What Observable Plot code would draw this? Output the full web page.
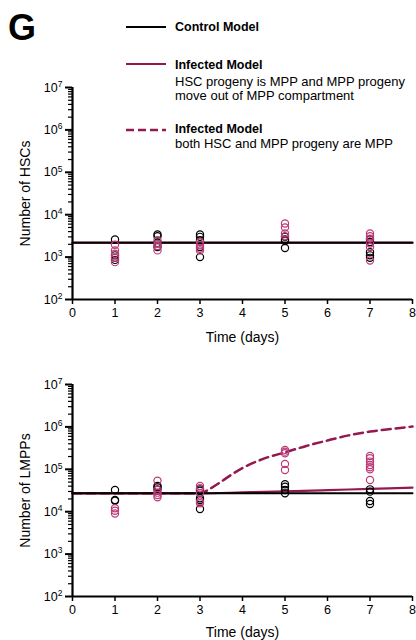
<!DOCTYPE html>
<html><head><meta charset="utf-8">
<script src="https://cdn.jsdelivr.net/npm/d3@7"></script>
<script src="https://cdn.jsdelivr.net/npm/@observablehq/plot@0.6"></script>
<style>
body{margin:0;width:416px;height:640px;position:relative;font-family:"Liberation Sans",Arial,sans-serif;background:#fff;overflow:hidden;color:#000}
#G{position:absolute;left:8px;top:10px;font-size:36px;font-weight:bold;line-height:1}
.leg{position:absolute;font-size:13px;white-space:nowrap}
.leg b{font-size:12.5px}
.lline{position:absolute;left:126px;overflow:visible}
.chart{position:absolute;left:0}
.chart svg{overflow:visible}
</style></head><body>
<div id="G">G</div>
<svg class="lline" style="top:20px" width="40" height="14"><line x1="0" x2="40" y1="7" y2="7" stroke="#000" stroke-width="2"/></svg>
<svg class="lline" style="top:57px" width="40" height="14"><line x1="0" x2="40" y1="7" y2="7" stroke="#93194f" stroke-width="2"/></svg>
<svg class="lline" style="top:123px" width="40" height="14"><line x1="0" x2="40" y1="7" y2="7" stroke="#93194f" stroke-width="2.5" stroke-dasharray="8,4"/></svg>
<div class="leg" style="left:175px;top:19px"><b>Control Model</b></div>
<div class="leg" style="left:175px;top:57px"><b>Infected Model</b></div>
<div class="leg" style="left:175px;top:75px;line-height:14px">HSC progeny is MPP and MPP progeny<br>move out of MPP compartment</div>
<div class="leg" style="left:175px;top:121px"><b>Infected Model</b></div>
<div class="leg" style="left:175px;top:136px">both HSC and MPP progeny are MPP</div>
<div id="c1" class="chart" style="top:77px"></div>
<div id="c2" class="chart" style="top:374px"></div>
<script>
// ---- axis ticks ----
const xTicks = [0,1,2,3,4,5,6,7,8];
const yTicks = [1e2,1e3,1e4,1e5,1e6,1e7];
const yTickLabels = ["2","3","4","5","6","7"];

// ---- HSC panel data ----
const hscCtrlDay = [1,1,1,1, 2,2,2,2, 3,3,3,3,3, 5,5,5,5, 7,7,7,7,7];
const hscCtrlVal = [2600,1100,960,860, 3400,3100,2150,1730, 3400,3000,2490,1730,1000, 3000,2600,2400,1640, 2600,2275,1310,1100,960];
const hscInfDay = [1,1,1,1,1, 2,2,2,2, 3,3,3,3, 5,5,5,5, 7,7,7,7,7,7];
const hscInfVal = [1960,1440,1200,960,760, 2490,2080,1830,1440, 2275,1900,1580,1440, 6200,5000,3600,3100, 3600,3100,2730,2080,1730,830];
const hscModelDay = [0,8];
const hscCtrlModel = [2220,2220];
const hscInfModel = [2220,2220];

// ---- LMPP panel data ----
const lmppCtrlDay = [1,1,1, 2,2,2, 3,3,3,3,3, 5,5,5,5, 7,7,7,7];
const lmppCtrlVal = [32500,18900,18200, 40500,37600,33700, 33700,31300,20700,18900,11600, 44300,39000,32500,27100, 33700,29700,17900,15200];
const lmppInfDay = [1,1,1, 2,2,2,2,2, 3,3,3,3,3, 5,5,5,5,5, 7,7,7,7,7,7,7];
const lmppInfVal = [12000,10500,9100, 54000,32500,28100,24700,21800, 40500,35600,27100,17300,15800, 287000,261000,239000,134000,96000, 206000,182000,152000,126000,112000,100000,56000];
const lmppCtrlModelDay = [0,8];
const lmppCtrlModel = [27100,27100];
const lmppInfSolidDay = [0,3,4,5,6,7,8];
const lmppInfSolid = [27100,27100,28500,30200,32300,34500,36900];
const lmppInfDashDay = [0,3,3.25,3.5,3.75,4,4.5,5,5.5,6,6.5,7,7.5,8];
const lmppInfDash = [27100,27100,35500,51300,75900,107000,178000,251000,355000,479000,631000,776000,891000,1020000];

const BLACK = "#000", LINE_PINK = "#93194f", PT_PINK = "#bd3a78";
const zip = (xs, ys) => xs.map((x, i) => ({x, y: ys[i]}));

const minorTicks = [];
for (let e = 2; e < 7; e++) for (let m = 2; m <= 9; m++) minorTicks.push(m * 10 ** e);

function panel({height, marginBottom, xLabelOffset, ylabel, lines, ctrlPts, infPts}) {
  const svg = Plot.plot({
    width: 416, height,
    marginLeft: 72, marginRight: 4, marginTop: 10, marginBottom,
    style: {fontFamily: '"Liberation Sans", Arial, sans-serif', fontSize: "12px", overflow: "visible"},
    x: {domain: [0, 8]},
    y: {type: "log", domain: [1e2, 1e7]},
    marks: [
      Plot.axisX({ticks: xTicks, tickSize: 5, tickPadding: 4, strokeWidth: 1.5, fontSize: 12.5,
        tickFormat: d => String(d),
        label: "Time (days)", labelAnchor: "center", labelArrow: "none", labelOffset: xLabelOffset}),
      Plot.axisY({ticks: minorTicks, tickSize: 4, strokeWidth: 1.2, tickFormat: () => "", label: null}),
      Plot.axisY({ticks: yTicks, tickSize: 7, strokeWidth: 2, tickPadding: 3, fontSize: 12.5,
        tickFormat: d => "10^" + yTickLabels[yTicks.indexOf(d)], label: null}),
      Plot.axisY({ticks: [], label: ylabel, labelAnchor: "center", labelArrow: "none", labelOffset: 52, fontSize: 14}),
      ...lines,
      Plot.dot(ctrlPts, {x: "x", y: "y", r: 3.6, stroke: BLACK, strokeWidth: 1.2, fill: "none"}),
      Plot.dot(infPts, {x: "x", y: "y", r: 3.6, stroke: PT_PINK, strokeWidth: 1.2, fill: "none"}),
      Plot.ruleX([0], {strokeWidth: 2.2}),
      Plot.ruleY([1e2], {strokeWidth: 2.2})
    ]
  });
  svg.querySelectorAll('g[aria-label="y-axis tick label"] text').forEach(t => {
    const s = t.textContent;
    if (!s.includes("^")) return;
    const [base, exp] = s.split("^");
    t.textContent = base;
    const ts = document.createElementNS("http://www.w3.org/2000/svg", "tspan");
    ts.setAttribute("dy", "-0.55em");
    ts.setAttribute("font-size", "8.5");
    ts.textContent = exp;
    t.appendChild(ts);
  });
  svg.querySelectorAll('g[aria-label="x-axis label"]').forEach(g => g.setAttribute("font-size", "14"));
  return svg;
}

document.getElementById("c1").appendChild(panel({
  height: 300, marginBottom: 78, xLabelOffset: 42, ylabel: "Number of HSCs",
  lines: [
    Plot.line(zip(hscModelDay, hscInfModel), {x: "x", y: "y", stroke: LINE_PINK, strokeWidth: 2.2, dy: 0.6}),
    Plot.line(zip(hscModelDay, hscCtrlModel), {x: "x", y: "y", stroke: BLACK, strokeWidth: 2})
  ],
  ctrlPts: zip(hscCtrlDay, hscCtrlVal),
  infPts: zip(hscInfDay, hscInfVal)
}));

document.getElementById("c2").appendChild(panel({
  height: 266, marginBottom: 44, xLabelOffset: 40, ylabel: "Number of LMPPs",
  lines: [
    Plot.line(zip(lmppInfDashDay, lmppInfDash), {x: "x", y: "y", stroke: LINE_PINK, strokeWidth: 2.5, strokeDasharray: "9,5", curve: "monotone-x"}),
    Plot.line(zip(lmppInfSolidDay, lmppInfSolid), {x: "x", y: "y", stroke: LINE_PINK, strokeWidth: 2.2, curve: "monotone-x"}),
    Plot.line(zip(lmppCtrlModelDay, lmppCtrlModel), {x: "x", y: "y", stroke: BLACK, strokeWidth: 2})
  ],
  ctrlPts: zip(lmppCtrlDay, lmppCtrlVal),
  infPts: zip(lmppInfDay, lmppInfVal)
}));
</script>
</body></html>
